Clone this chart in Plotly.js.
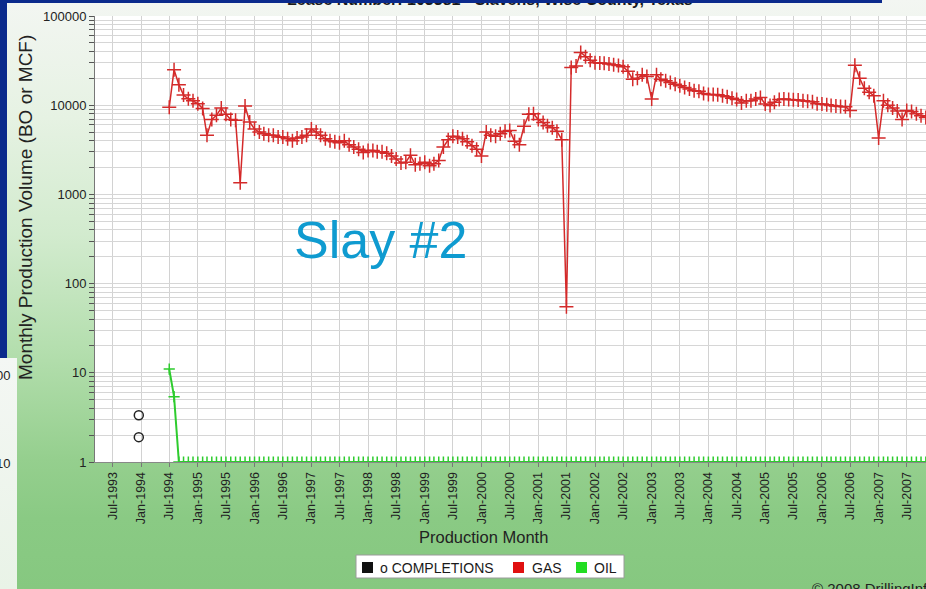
<!DOCTYPE html>
<html><head><meta charset="utf-8">
<script src="https://cdn.plot.ly/plotly-3.0.1.min.js"></script>
<style>
html,body{margin:0;padding:0;width:926px;height:589px;overflow:hidden;background:#fff;}
#bg{position:absolute;left:0;top:0;width:926px;height:589px;
 background:linear-gradient(to bottom,#f3f6f2 0%,#e6f2e3 20%,#d2ebce 40%,#b3dead 60%,#95cf8e 78%,#8aca84 88%,#86c880 100%);}
#chart{position:absolute;left:0;top:0;width:926px;height:589px;}
.deco{position:absolute;overflow:hidden;}
</style></head><body>
<div id="bg"></div>
<div id="chart"></div>
<div class="deco" style="left:0;top:0;width:882px;height:3px;background:#0b2a8c"></div>
<div class="deco" style="left:0;top:0;width:7px;height:358px;background:#0b2a8c"></div>
<div class="deco" style="left:0;top:358px;width:17px;height:231px;background:linear-gradient(to bottom,#f4f7f4,#e9f3e7);font-family:Arial,'Liberation Sans',sans-serif;font-size:13px;color:#222">
  <span style="position:absolute;left:-4px;top:10px">00</span>
  <span style="position:absolute;left:-4px;top:98px">10</span>
</div>
<script>
// ---- data ----
const gasStartMonth = "1994-07";
const gasValues = [
  9500, 25000, 17000, 13000, 11800, 11200,
  10400, 9200, 4600, 6900, 7700, 9300, 7900, 6900, 6800, 1350, 9800, 6500,
  5400, 5000, 4800, 4600, 4600, 4400, 4400, 4200, 4000, 4300, 4400, 4600,
  5400, 5000, 4600, 4200, 4000, 3900, 3800, 4000, 3600, 3400, 3200, 2950,
  3100, 3100, 3000, 3000, 2900, 2700, 2500, 2250, 2300, 2750, 2150, 2200,
  2300, 2100, 2200, 2400, 3400, 4100, 4500, 4400, 4200, 3900, 3500, 3200,
  2700, 5000, 4600, 4500, 4800, 5100, 5200, 3950, 3600, 5800, 7900, 8000,
  6900, 6400, 5900, 5600, 5100, 4100, 55, 26500, 27500, 39000, 35000, 32000,
  29900, 29800, 29500, 29000, 28500, 27800, 27000, 24000, 19500, 20000, 22000, 21000,
  11700, 22000, 19500, 18800, 18000, 17200, 16500, 15800, 15200, 14500, 14300, 13500,
  13200, 13200, 13100, 12800, 12400, 12000, 11600, 10600, 11200, 11200, 11700, 12200,
  10300, 9900, 10800, 11600, 11700, 11600, 11500, 11400, 11200, 11100, 10900, 10400,
  10300, 10100, 9900, 9800, 9700, 9600, 8700, 28000, 20000, 15500, 14000, 12800,
  4300, 11200, 10000, 9300, 8600, 6900, 8700, 8500, 8000, 7600, 7300
];
const oilValues = [
  11, 5.4, 1, 1, 1, 1,
  1,1,1,1,1,1,1,1,1,1,1,1,
  1,1,1,1,1,1,1,1,1,1,1,1,
  1,1,1,1,1,1,1,1,1,1,1,1,
  1,1,1,1,1,1,1,1,1,1,1,1,
  1,1,1,1,1,1,1,1,1,1,1,1,
  1,1,1,1,1,1,1,1,1,1,1,1,
  1,1,1,1,1,1,1,1,1,1,1,1,
  1,1,1,1,1,1,1,1,1,1,1,1,
  1,1,1,1,1,1,1,1,1,1,1,1,
  1,1,1,1,1,1,1,1,1,1,1,1,
  1,1,1,1,1,1,1,1,1,1,1,1,
  1,1,1,1,1,1,1,1,1,1,1,1,
  1,1,1,1,1,1,1,1,1,1,1
];
const completionDates = ["1993-12-17", "1993-12-17"];
const completionValues = [3.35, 1.9];
const yMajorLabels = ["1", "10", "100", "1000", "10000", "100000"];
const xRange = ["1993-03-10", "2007-11-02"];
const chartTitle = "Lease Number: 103381 - Slavens, Wise County, Texas";
const watermark = "Slay #2";
const legendNames = ["o COMPLETIONS", "GAS", "OIL"];
const legendColors = ["#111111", "#e01010", "#22dd22"];

// month sequence for the production series
function monthSeq(start, n) {
  const [y0, m0] = start.split("-").map(Number);
  const out = [];
  for (let i = 0; i < n; i++) {
    const t = (m0 - 1) + i;
    const y = y0 + Math.floor(t / 12), m = (t % 12) + 1;
    out.push(y + "-" + String(m).padStart(2, "0") + "-01");
  }
  return out;
}
const gasDates = monthSeq(gasStartMonth, gasValues.length);
const oilDates = monthSeq(gasStartMonth, oilValues.length);

// y tick values (decades + minor 2..9)
const yTickVals = [], yTickText = [];
for (let d = 0; d <= 5; d++) {
  for (let k = 1; k <= 9; k++) {
    if (d === 5 && k > 1) break;
    yTickVals.push(k * Math.pow(10, d));
    yTickText.push(k === 1 ? yMajorLabels[d] : "");
  }
}

// ---- layout geometry ----
const W = 926, H = 589, L = 95, R = 0, T = 16, B = 127;
const pw = W - L - R, ph = H - T - B;
const fx = px => (px - L) / pw;
const fy = py => (H - B - py) / ph;
const AF = "Arial, 'Liberation Sans', sans-serif";

const traces = [
  {x: oilDates, y: oilValues, type: "scatter", mode: "lines+markers", name: "OIL",
   line: {color: "#2ecc2e", width: 2},
   marker: {symbol: "cross-thin-open", size: 8, line: {color: "#2ecc2e", width: 1.5}},
   showlegend: false},
  {x: gasDates, y: gasValues, type: "scatter", mode: "lines+markers", name: "GAS",
   line: {color: "#d42a2a", width: 1.5},
   marker: {symbol: "cross-thin-open", size: 10, line: {color: "#551010", width: 1.5}},
   showlegend: false},
  {x: completionDates, y: completionValues, type: "scatter", mode: "markers", name: "COMPLETIONS",
   marker: {symbol: "circle-open", size: 9, color: "#222", line: {color: "#222", width: 1.5}},
   showlegend: false}
];

const shapes = [
  {type: "rect", xref: "paper", yref: "paper", x0: fx(356), x1: fx(624), y0: fy(578), y1: fy(555),
   fillcolor: "#ffffff", line: {color: "#9a9a9a", width: 1}},
];
const legX = [362, 513, 576];
const legTextX = [378, 530, 592];
const annotations = [
  {xref: "paper", yref: "paper", x: fx(490), y: fy(0), text: "<b>" + chartTitle + "</b>", showarrow: false,
   font: {family: AF, size: 16, color: "#1a1a1a"}, xanchor: "center", yanchor: "middle"},
  {xref: "paper", yref: "paper", x: fx(380), y: fy(240), text: watermark, showarrow: false,
   font: {family: AF, size: 52, color: "#0f9bd0"}, xanchor: "center", yanchor: "middle"},
  {xref: "paper", yref: "paper", x: fx(25), y: fy(208), text: "Monthly Production Volume (BO or MCF)",
   showarrow: false, textangle: -90, font: {family: AF, size: 19, color: "#222"}, xanchor: "center", yanchor: "middle"},
  {xref: "paper", yref: "paper", x: fx(483), y: fy(537), text: "Production Month", showarrow: false,
   font: {family: AF, size: 16.5, color: "#222"}, xanchor: "center", yanchor: "middle"},
  {xref: "paper", yref: "paper", x: fx(810), y: fy(578), text: "\u00a9 2008 DrillingInfo, Inc.", showarrow: false,
   font: {family: AF, size: 15, color: "#222"}, xanchor: "left", yanchor: "top"}
];
for (let i = 0; i < 3; i++) {
  shapes.push({type: "rect", xref: "paper", yref: "paper", x0: fx(legX[i]), x1: fx(legX[i] + 11),
    y0: fy(573), y1: fy(562), fillcolor: legendColors[i], line: {width: 0}});
  annotations.push({xref: "paper", yref: "paper", x: fx(legTextX[i]), y: fy(567.5), text: legendNames[i],
    showarrow: false, font: {family: AF, size: 14, color: "#1a1a1a"}, xanchor: "left", yanchor: "middle"});
}

const layout = {
  width: W, height: H,
  margin: {l: L, r: R, t: T, b: B, pad: 0},
  paper_bgcolor: "rgba(0,0,0,0)",
  plot_bgcolor: "#ffffff",
  showlegend: false,
  xaxis: {
    type: "date", range: xRange, automargin: false,
    tick0: "1993-07-01", dtick: "M6", tickformat: "%b-%Y", tickangle: -90,
    tickfont: {family: AF, size: 12.5, color: "#222"},
    ticks: "outside", ticklen: 4, tickcolor: "#777",
    showgrid: true, gridcolor: "#d2d2d2", gridwidth: 1,
    showline: true, linecolor: "#888", linewidth: 1, zeroline: false
  },
  yaxis: {
    type: "log", range: [0, 5], automargin: false,
    tickmode: "array", tickvals: yTickVals, ticktext: yTickText,
    tickfont: {family: AF, size: 13, color: "#222"},
    ticks: "outside", ticklen: 5, tickcolor: "#555",
    showgrid: true, gridcolor: "#d6d6d6", gridwidth: 1,
    showline: true, linecolor: "#777", linewidth: 1, zeroline: false
  },
  shapes: shapes,
  annotations: annotations
};

Plotly.newPlot("chart", traces, layout, {staticPlot: true, displayModeBar: false});
</script>
</body></html>
